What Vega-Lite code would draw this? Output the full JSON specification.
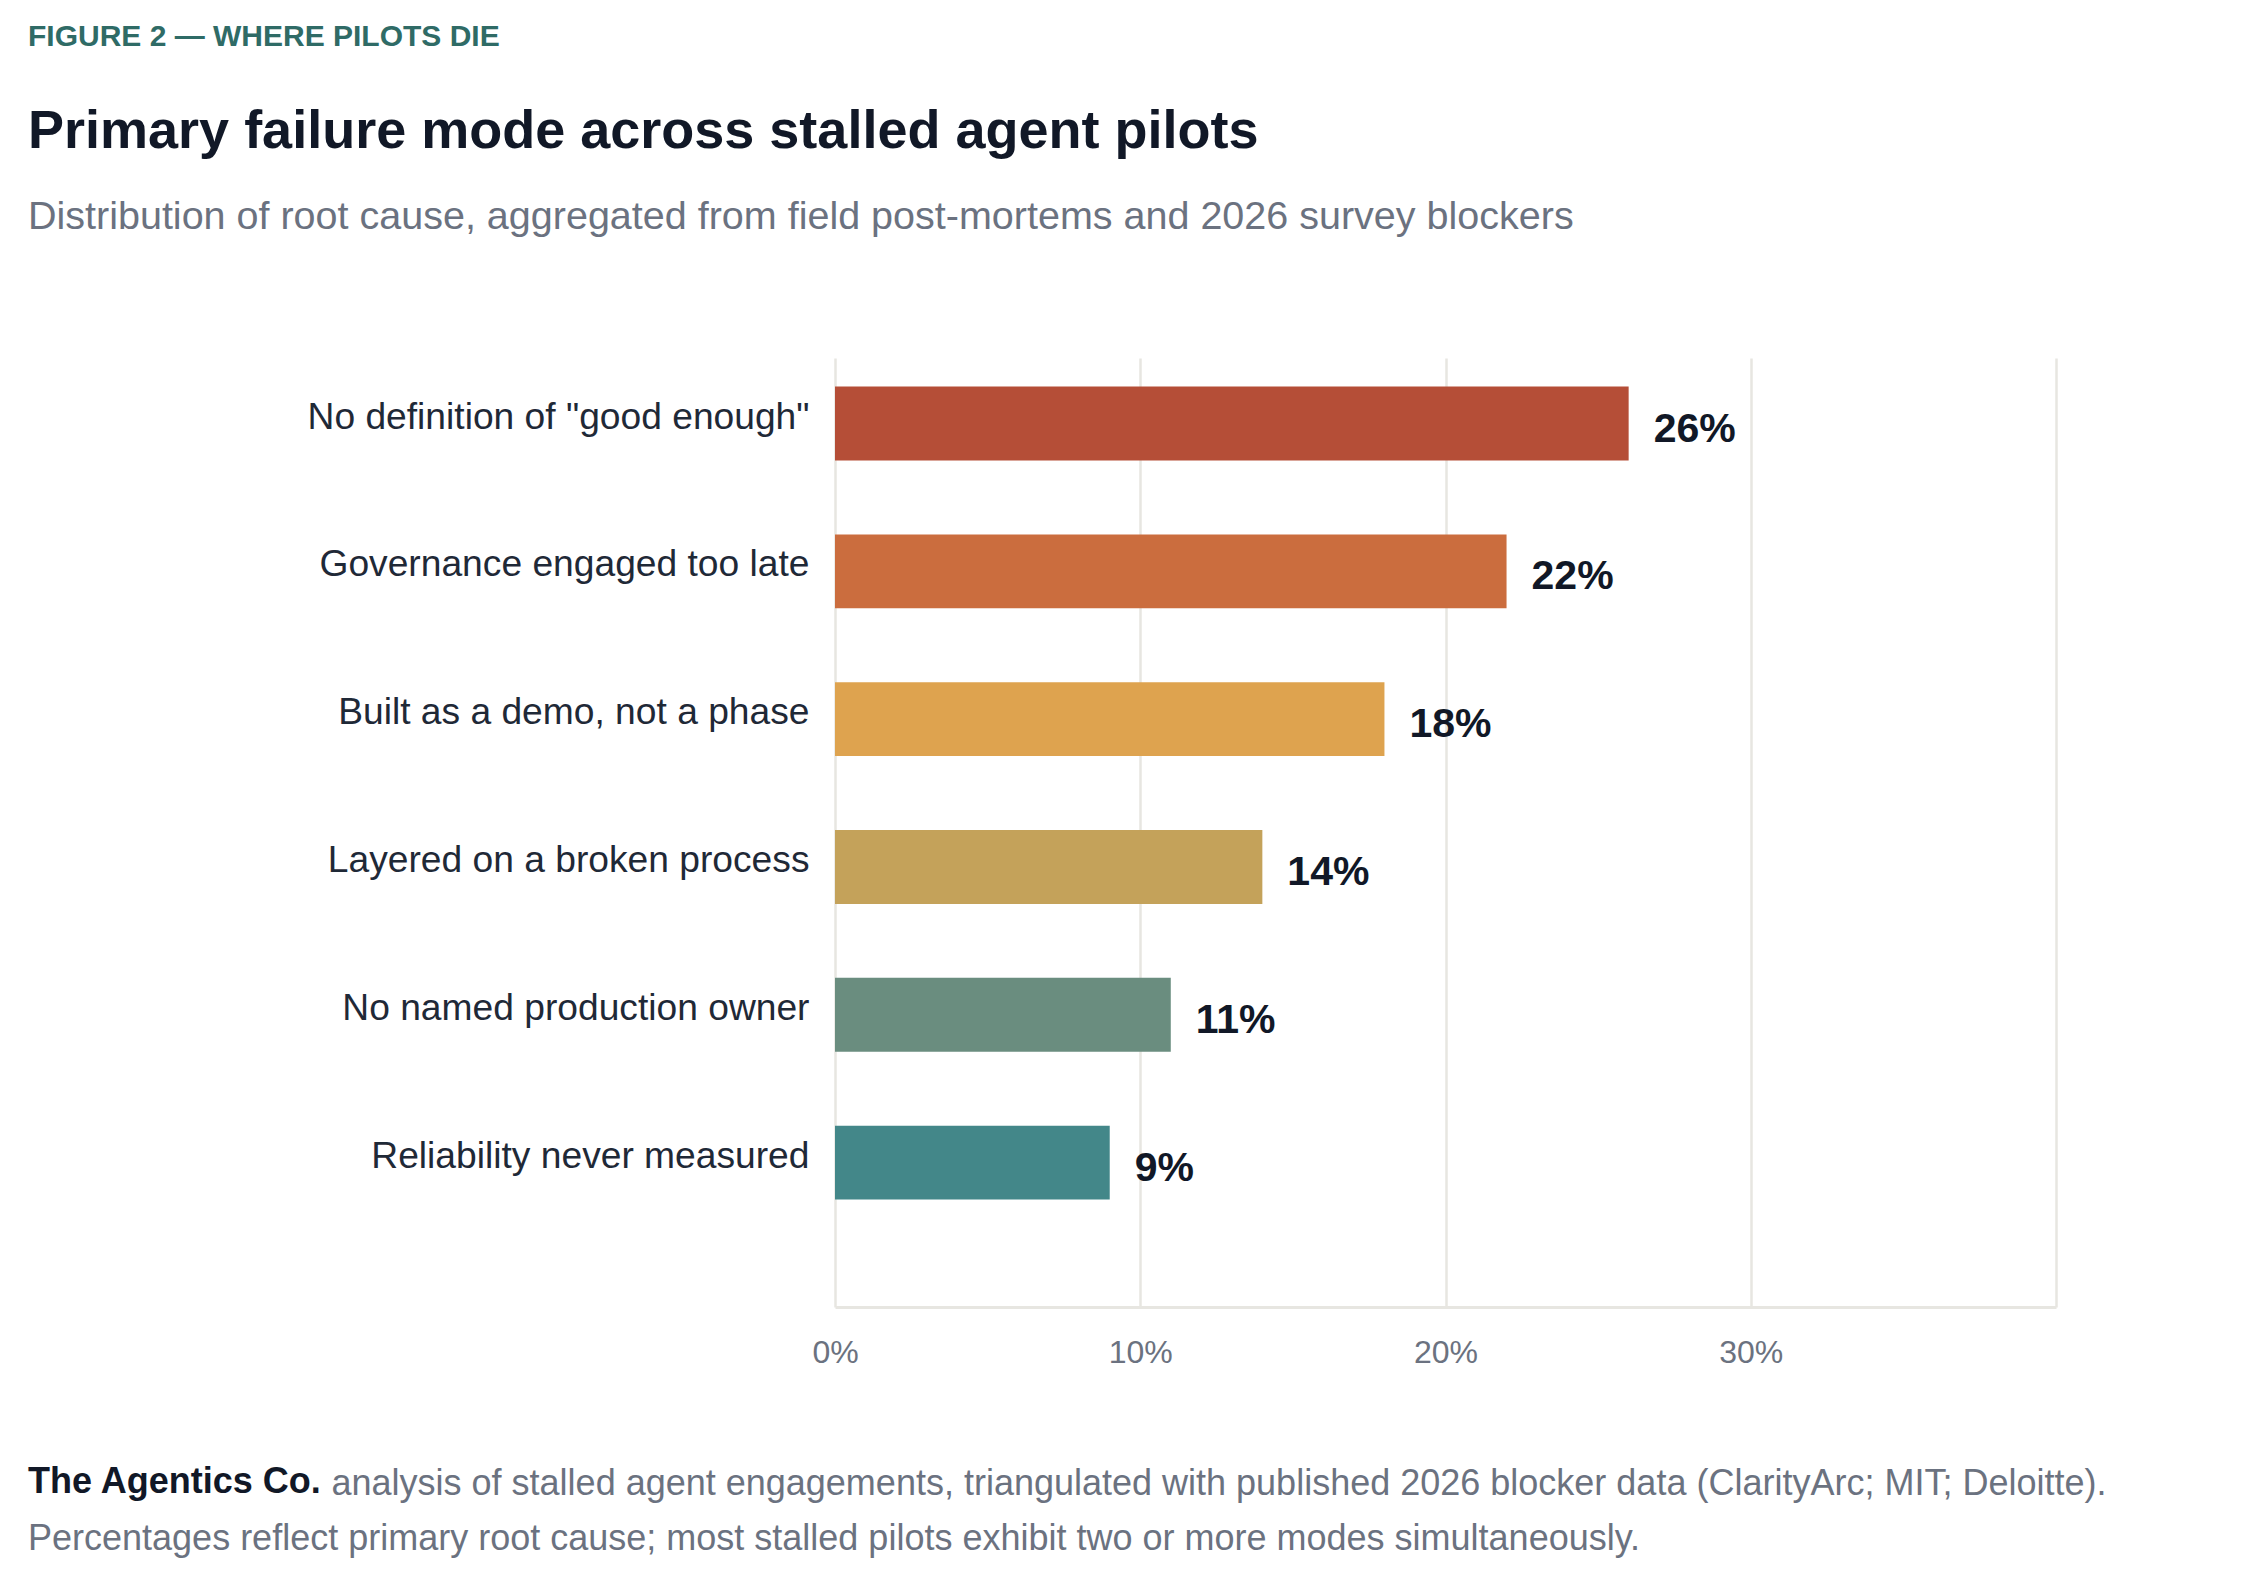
{
  "$schema": "https://vega.github.io/schema/vega-lite/v6.json",
  "background": "white",
  "padding": {"left": 28, "top": 21, "right": 40, "bottom": 20},
  "title": {
    "text": "FIGURE 2 — WHERE PILOTS DIE",
    "anchor": "start",
    "fontSize": 30,
    "fontWeight": "bold",
    "color": "#2F6B66",
    "offset": 53
  },
  "vconcat": [
    {
      "title": {
        "text": "The Agentics Co.",
        "subtitle": "Percentages reflect primary root cause; most stalled pilots exhibit two or more modes simultaneously.",
        "orient": "bottom",
        "anchor": "start",
        "fontSize": 36,
        "fontWeight": "bold",
        "color": "#111827",
        "subtitleFontSize": 36,
        "subtitleColor": "#6B7280",
        "subtitlePadding": 21,
        "offset": -36
      },
      "vconcat": [
        {
          "title": {
            "text": "Primary failure mode across stalled agent pilots",
            "subtitle": "Distribution of root cause, aggregated from field post-mortems and 2026 survey blockers",
            "anchor": "start",
            "frame": "group",
            "dx": -807,
            "fontSize": 54,
            "fontWeight": "bold",
            "color": "#111827",
            "subtitleFontSize": 39.5,
            "subtitleColor": "#6B7280",
            "subtitlePadding": 39,
            "offset": 122
          },
          "width": 1221,
          "height": 949,
          "data": {
            "values": [
              {"cause": "No definition of \"good enough\"", "share": 0.26},
              {"cause": "Governance engaged too late", "share": 0.22},
              {"cause": "Built as a demo, not a phase", "share": 0.18},
              {"cause": "Layered on a broken process", "share": 0.14},
              {"cause": "No named production owner", "share": 0.11},
              {"cause": "Reliability never measured", "share": 0.09}
            ]
          },
          "encoding": {
            "y": {
              "field": "cause",
              "type": "nominal",
              "sort": null,
              "scale": {"paddingInner": 0.5, "paddingOuter": 0.46, "align": 0.21},
              "axis": {
                "title": null,
                "domain": false,
                "ticks": false,
                "labelFontSize": 37.2,
                "labelColor": "#1F2937",
                "labelPadding": 26,
                "labelLimit": 0,
                "labelOffset": -6
              }
            },
            "x": {
              "field": "share",
              "type": "quantitative",
              "scale": {"domain": [0, 0.4]},
              "axis": {
                "values": [0, 0.1, 0.2, 0.3, 0.4],
                "labelExpr": "datum.value < 0.35 ? format(datum.value, '.0%') : ''",
                "labelFlush": false,
                "grid": true,
                "gridColor": "#E7E6E1",
                "gridWidth": 2.5,
                "domainColor": "#E7E6E1",
                "domainWidth": 3,
                "ticks": false,
                "labelFontSize": 32,
                "labelColor": "#6B7280",
                "labelPadding": 30,
                "title": "analysis of stalled agent engagements, triangulated with published 2026 blocker data (ClarityArc; MIT; Deloitte).",
                "titleX": -504,
                "titleY": 187,
                "titleAlign": "left",
                "titleBaseline": "alphabetic",
                "titleFontSize": 36,
                "titleFontWeight": "normal",
                "titleColor": "#6B7280"
              }
            }
          },
          "layer": [
            {
              "mark": {"type": "bar"},
              "encoding": {
                "color": {
                  "field": "cause",
                  "type": "nominal",
                  "legend": null,
                  "scale": {
                    "domain": [
                      "No definition of \"good enough\"",
                      "Governance engaged too late",
                      "Built as a demo, not a phase",
                      "Layered on a broken process",
                      "No named production owner",
                      "Reliability never measured"
                    ],
                    "range": ["#B54E37", "#CB6D3E", "#DEA34F", "#C4A25A", "#6A8D7F", "#438789"]
                  }
                }
              }
            },
            {
              "mark": {
                "type": "text",
                "align": "left",
                "baseline": "middle",
                "dx": 25,
                "dy": 6,
                "fontSize": 41,
                "fontWeight": "bold",
                "color": "#111827"
              },
              "encoding": {
                "text": {"field": "share", "type": "quantitative", "format": ".0%"}
              }
            }
          ]
        }
      ]
    }
  ],
  "config": {
    "font": "Liberation Sans",
    "view": {"stroke": null},
    "concat": {"spacing": 0}
  }
}
